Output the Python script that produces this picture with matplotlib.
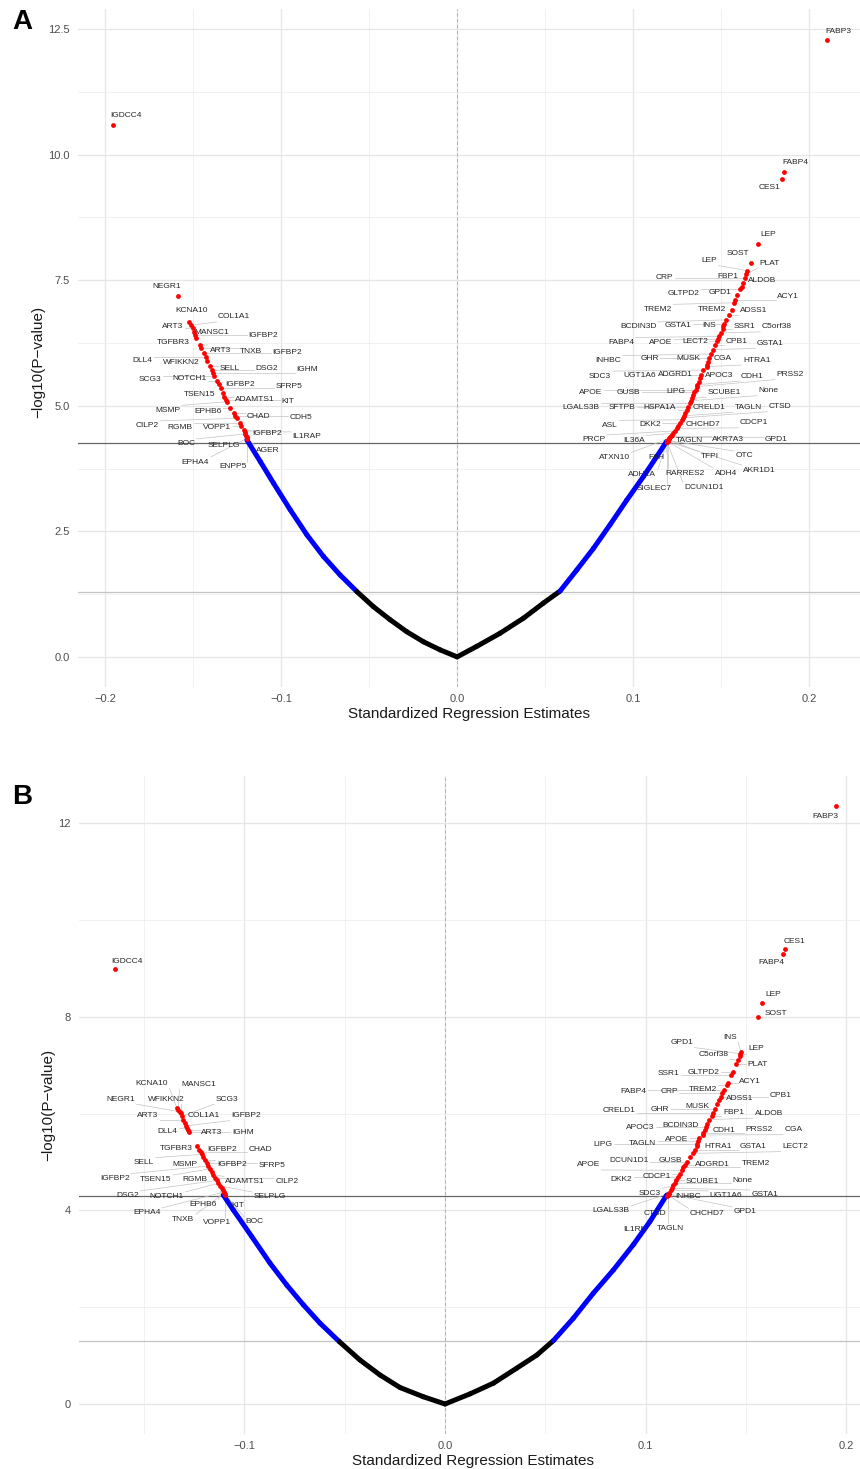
import matplotlib
matplotlib.use("Agg")
import matplotlib.pyplot as plt
from matplotlib.ticker import MultipleLocator
import numpy as np

plt.rcParams["font.family"] = ["Liberation Sans", "DejaVu Sans"]

# ---------------- panel A data ----------------
# background genes along the volcano curve (left -> right)
a_curve_est = [-0.1195, -0.1119, -0.1044, -0.0949, -0.0854, -0.0760, -0.0665, -0.0570,
               -0.0476, -0.0381, -0.0286, -0.0191, -0.0097, 0.0, 0.0112, 0.0244, 0.0377,
               0.0490, 0.0585, 0.0680, 0.0775, 0.0869, 0.0964, 0.1059, 0.1135, 0.1191]
a_curve_logp = [4.32, 3.89, 3.46, 2.93, 2.43, 2.00, 1.63, 1.30, 1.00, 0.74, 0.50, 0.30, 0.14,
                0.0, 0.21, 0.47, 0.77, 1.07, 1.31, 1.73, 2.16, 2.63, 3.12, 3.59, 3.99, 4.29]

# significant (labelled) genes
a_genes = ["IGDCC4", "NEGR1", "KCNA10", "COL1A1", "ART3", "MANSC1", "IGFBP2", "TGFBR3", "ART3",
           "TNXB", "IGFBP2", "DLL4", "WFIKKN2", "SELL", "DSG2", "IGHM", "SCG3", "NOTCH1",
           "IGFBP2", "SFRP5", "TSEN15", "ADAMTS1", "KIT", "MSMP", "EPHB6", "CHAD", "CDH5",
           "CILP2", "RGMB", "VOPP1", "IGFBP2", "IL1RAP", "BOC", "SELPLG", "AGER", "EPHA4",
           "ENPP5",
           "FABP3", "FABP4", "CES1", "LEP", "SOST", "LEP", "PLAT", "CRP", "FBP1", "ALDOB",
           "GLTPD2", "GPD1", "ACY1", "TREM2", "TREM2", "ADSS1", "BCDIN3D", "GSTA1", "INS",
           "SSR1", "C5orf38", "FABP4", "APOE", "LECT2", "CPB1", "GSTA1", "INHBC", "GHR",
           "MUSK", "CGA", "HTRA1", "SDC3", "UGT1A6", "ADGRD1", "APOC3", "CDH1", "PRSS2",
           "APOE", "GUSB", "LIPG", "SCUBE1", "None", "LGALS3B", "SFTPB", "HSPA1A", "CRELD1",
           "TAGLN", "CTSD", "ASL", "DKK2", "CHCHD7", "CDCP1", "PRCP", "IL36A", "TAGLN",
           "AKR7A3", "GPD1", "ATXN10", "FAH", "TFPI", "OTC", "ADH1A", "RARRES2", "ADH4",
           "AKR1D1", "SIGLEC7", "DCUN1D1"]
a_gene_est = [-0.1955, -0.1587, -0.1523, -0.1512, -0.1502, -0.1494, -0.1490, -0.1483, -0.1460,
              -0.1455, -0.1440, -0.1430, -0.1419, -0.1405, -0.1394, -0.1388, -0.1381, -0.1366,
              -0.1356, -0.1345, -0.1331, -0.1324, -0.1314, -0.1308, -0.1290, -0.1271, -0.1262,
              -0.1252, -0.1233, -0.1227, -0.1214, -0.1208, -0.1204, -0.1200, -0.1197, -0.1195,
              -0.1193,
              0.2102, 0.1858, 0.1847, 0.1709, 0.1670, 0.1650, 0.1643, 0.1636, 0.1627, 0.1618,
              0.1608, 0.1592, 0.1580, 0.1574, 0.1561, 0.1543, 0.1528, 0.1518, 0.1513,
              0.1510, 0.1500, 0.1489, 0.1484, 0.1479, 0.1468, 0.1456, 0.1445, 0.1432,
              0.1427, 0.1422, 0.1419, 0.1399, 0.1389, 0.1381, 0.1373, 0.1366, 0.1362,
              0.1355, 0.1349, 0.1343, 0.1335, 0.1328, 0.1323, 0.1314, 0.1305, 0.1297,
              0.1288, 0.1283, 0.1277, 0.1266, 0.1256, 0.1247, 0.1238, 0.1229, 0.1222,
              0.1215, 0.1210, 0.1206, 0.1202, 0.1200, 0.1198, 0.1197, 0.1196, 0.1195,
              0.1195, 0.1194, 0.1193]
a_gene_logp = [10.59, 7.19, 6.67, 6.60, 6.54, 6.46, 6.40, 6.34, 6.21, 6.15, 6.05, 5.97, 5.90,
               5.80, 5.71, 5.65, 5.59, 5.50, 5.43, 5.35, 5.25, 5.18, 5.12, 5.08, 4.95, 4.85,
               4.80, 4.75, 4.65, 4.60, 4.52, 4.48, 4.44, 4.40, 4.37, 4.35, 4.33,
               12.28, 9.65, 9.51, 8.23, 7.85, 7.69, 7.62, 7.54, 7.45, 7.37, 7.32, 7.20, 7.10,
               7.05, 6.91, 6.80, 6.71, 6.62, 6.59, 6.52, 6.45, 6.38, 6.33, 6.28, 6.20, 6.12,
               6.03, 5.95, 5.88, 5.82, 5.78, 5.71, 5.62, 5.55, 5.48, 5.42, 5.38, 5.32, 5.27,
               5.21, 5.15, 5.10, 5.05, 4.98, 4.92, 4.86, 4.80, 4.76, 4.72, 4.66, 4.60, 4.55,
               4.50, 4.45, 4.42, 4.39, 4.37, 4.35, 4.33, 4.32, 4.31, 4.30, 4.30, 4.29, 4.29,
               4.28, 4.28]
a_sig = 4.26

# ---------------- panel B data ----------------
b_curve_est = [-0.1105, -0.1055, -0.0963, -0.0872, -0.0789, -0.0706, -0.0623, -0.0527, -0.0424,
               -0.0324, -0.0224, -0.0108, 0.0, 0.0125, 0.0241, 0.0357, 0.0457, 0.0540, 0.0639,
               0.0739, 0.0839, 0.0938, 0.1021, 0.1105]
b_curve_logp = [4.32, 4.01, 3.46, 2.91, 2.46, 2.05, 1.67, 1.29, 0.91, 0.60, 0.34, 0.15, 0.0,
                0.21, 0.43, 0.74, 1.01, 1.31, 1.77, 2.29, 2.77, 3.29, 3.77, 4.32]

b_genes = ["IGDCC4", "KCNA10", "MANSC1", "NEGR1", "WFIKKN2", "SCG3", "ART3", "COL1A1", "IGFBP2",
           "DLL4", "ART3", "IGHM", "TGFBR3", "IGFBP2", "CHAD", "SELL", "MSMP", "IGFBP2",
           "SFRP5", "IGFBP2", "TSEN15", "RGMB", "ADAMTS1", "CILP2", "DSG2", "NOTCH1",
           "SELPLG", "EPHB6", "KIT", "EPHA4", "TNXB", "VOPP1", "BOC",
           "FABP3", "CES1", "FABP4", "LEP", "SOST", "INS", "GPD1", "LEP", "C5orf38", "PLAT",
           "GLTPD2", "SSR1", "ACY1", "TREM2", "FABP4", "CRP", "CPB1", "ADSS1", "MUSK", "GHR",
           "CRELD1", "FBP1", "ALDOB", "BCDIN3D", "APOC3", "CDH1", "PRSS2", "CGA", "APOE",
           "TAGLN", "LIPG", "HTRA1", "GSTA1", "LECT2", "GUSB", "DCUN1D1", "ADGRD1", "TREM2",
           "APOE", "CDCP1", "DKK2", "SCUBE1", "None", "SDC3", "GSTA1", "UGT1A6", "INHBC",
           "LGALS3B", "GPD1", "CTSD", "CHCHD7", "TAGLN", "IL1RN"]
b_gene_est = [-0.1644, -0.1337, -0.1330, -0.1322, -0.1317, -0.1311, -0.1304, -0.1295, -0.1290,
              -0.1284, -0.1279, -0.1274, -0.1237, -0.1225, -0.1218, -0.1212, -0.1204, -0.1196,
              -0.1188, -0.1179, -0.1170, -0.1162, -0.1154, -0.1146, -0.1138, -0.1130,
              -0.1122, -0.1113, -0.1108, -0.1102, -0.1099, -0.1096, -0.1095,
              0.1948, 0.1695, 0.1685, 0.1579, 0.1560, 0.1473, 0.1471, 0.1470, 0.1460, 0.1450,
              0.1433, 0.1427, 0.1412, 0.1403, 0.1392, 0.1382, 0.1374, 0.1367, 0.1354, 0.1345,
              0.1337, 0.1330, 0.1318, 0.1304, 0.1300, 0.1295, 0.1288, 0.1284, 0.1267,
              0.1262, 0.1257, 0.1254, 0.1245, 0.1234, 0.1220, 0.1204, 0.1196, 0.1188,
              0.1179, 0.1171, 0.1163, 0.1152, 0.1144, 0.1138, 0.1130, 0.1124, 0.1118,
              0.1115, 0.1113, 0.1111, 0.1110, 0.1109, 0.1108]
b_gene_logp = [8.99, 6.12, 6.08, 6.04, 6.01, 5.95, 5.88, 5.80, 5.75, 5.70, 5.66, 5.63, 5.33,
               5.25, 5.20, 5.16, 5.10, 5.04, 4.98, 4.92, 4.86, 4.80, 4.74, 4.68, 4.62, 4.56,
               4.51, 4.46, 4.42, 4.38, 4.36, 4.34, 4.33,
               12.36, 9.40, 9.30, 8.28, 8.00, 7.28, 7.24, 7.19, 7.10, 7.02, 6.87, 6.80, 6.64,
               6.59, 6.50, 6.42, 6.35, 6.28, 6.20, 6.10, 6.02, 5.95, 5.88, 5.79, 5.72, 5.66,
               5.60, 5.56, 5.49, 5.43, 5.37, 5.33, 5.26, 5.18, 5.10, 5.01, 4.95, 4.89, 4.83,
               4.76, 4.70, 4.62, 4.56, 4.52, 4.46, 4.42, 4.37, 4.35, 4.34, 4.33, 4.32, 4.31,
               4.30]
b_sig = 4.30

nominal = 1.30  # -log10(0.05)

# ---------------- label layout (repelled text positions) ----------------
a_lab_x = [-0.1881, -0.1650, -0.1511, -0.1267, -0.1616, -0.1392, -0.1102, -0.1616, -0.1347,
           -0.1170, -0.0964, -0.1788, -0.1570, -0.1294, -0.1081, -0.0854, -0.1744, -0.1523,
           -0.1231, -0.0958, -0.1466, -0.1150, -0.0964, -0.1644, -0.1417, -0.1127, -0.0888,
           -0.1763, -0.1574, -0.1362, -0.1078, -0.0854, -0.1540, -0.1324, -0.1074, -0.1487,
           -0.1271,
           0.2165, 0.1923, 0.1778, 0.1769, 0.1598, 0.1434, 0.1775, 0.1178, 0.1538, 0.1733,
           0.1286, 0.1494, 0.1881, 0.1140, 0.1449, 0.1684, 0.1030, 0.1254, 0.1430,
           0.1633, 0.1816, 0.0932, 0.1157, 0.1352, 0.1589, 0.1778, 0.0856, 0.1093,
           0.1314, 0.1509, 0.1703, 0.0813, 0.1040, 0.1239, 0.1490, 0.1676, 0.1892,
           0.0760, 0.0976, 0.1244, 0.1521, 0.1769, 0.0703, 0.0936, 0.1153, 0.1434,
           0.1655, 0.1835, 0.0869, 0.1097, 0.1399, 0.1689, 0.0778, 0.1006, 0.1320,
           0.1542, 0.1813, 0.0892, 0.1133, 0.1434, 0.1631, 0.1053, 0.1295, 0.1527,
           0.1718, 0.1119, 0.1403]
a_lab_y = [10.78, 7.38, 6.89, 6.77, 6.57, 6.46, 6.40, 6.26, 6.11, 6.09, 6.07, 5.91, 5.86,
           5.75, 5.75, 5.73, 5.53, 5.54, 5.43, 5.39, 5.22, 5.12, 5.08, 4.91, 4.89, 4.78,
           4.76, 4.60, 4.57, 4.57, 4.44, 4.38, 4.24, 4.20, 4.11, 3.88, 3.79,
           12.46, 9.85, 9.34, 8.41, 8.04, 7.89, 7.84, 7.56, 7.57, 7.49, 7.24, 7.25, 7.17,
           6.92, 6.92, 6.89, 6.57, 6.59, 6.59, 6.57, 6.57, 6.26, 6.26, 6.27, 6.27, 6.24,
           5.90, 5.94, 5.95, 5.95, 5.91, 5.59, 5.61, 5.62, 5.61, 5.59, 5.62, 5.27, 5.27,
           5.29, 5.27, 5.30, 4.96, 4.96, 4.97, 4.96, 4.97, 4.98, 4.61, 4.62, 4.62, 4.66,
           4.32, 4.31, 4.31, 4.32, 4.33, 3.97, 3.97, 3.99, 4.00, 3.64, 3.66, 3.66, 3.72,
           3.35, 3.38]

b_lab_x = [-0.1584, -0.1461, -0.1229, -0.1616, -0.1387, -0.1088, -0.1483, -0.1204, -0.0992,
           -0.1384, -0.1161, -0.1008, -0.1340, -0.1113, -0.0922, -0.1500, -0.1295, -0.1063,
           -0.0864, -0.1644, -0.1440, -0.1246, -0.0997, -0.0786, -0.1583, -0.1387,
           -0.0875, -0.1204, -0.1033, -0.1486, -0.1304, -0.1138, -0.0950,
           0.1893, 0.1744, 0.1624, 0.1634, 0.1649, 0.1420, 0.1179, 0.1550, 0.1337, 0.1558,
           0.1290, 0.1113, 0.1520, 0.1284, 0.0938, 0.1116, 0.1673, 0.1470, 0.1257, 0.1071,
           0.0868, 0.1437, 0.1613, 0.1174, 0.0975, 0.1390, 0.1565, 0.1736, 0.1154,
           0.0985, 0.0789, 0.1360, 0.1536, 0.1744, 0.1121, 0.0918, 0.1334, 0.1548,
           0.0714, 0.1055, 0.0880, 0.1282, 0.1483, 0.1018, 0.1594, 0.1400, 0.1212,
           0.0826, 0.1496, 0.1048, 0.1307, 0.1121, 0.0945]
b_lab_y = [9.15, 6.63, 6.61, 6.30, 6.30, 6.30, 5.97, 5.96, 5.96, 5.64, 5.62, 5.62, 5.29,
           5.26, 5.26, 4.99, 4.96, 4.94, 4.92, 4.66, 4.63, 4.63, 4.60, 4.59, 4.30, 4.28,
           4.28, 4.13, 4.10, 3.95, 3.82, 3.75, 3.77,
           12.15, 9.55, 9.13, 8.47, 8.08, 7.58, 7.47, 7.34, 7.23, 7.01, 6.85, 6.83, 6.67,
           6.51, 6.46, 6.46, 6.38, 6.32, 6.14, 6.09, 6.06, 6.02, 6.01, 5.76, 5.72, 5.66,
           5.67, 5.67, 5.47, 5.39, 5.37, 5.32, 5.32, 5.32, 5.04, 5.03, 4.96, 4.97, 4.94,
           4.70, 4.65, 4.60, 4.61, 4.35, 4.32, 4.30, 4.28, 3.99, 3.97, 3.94, 3.94, 3.63,
           3.61]

W, H = 860, 1469
fig = plt.figure(figsize=(W / 100, H / 100), dpi=100)


def px_axes(left, top, right, bottom):
    return fig.add_axes([left / W, 1 - bottom / H, (right - left) / W, (bottom - top) / H])


def draw_panel(ax, curve_est, curve_logp, est, logp, sig, xlim, ylim, xminor, ymajor, yminor):
    ax.set_xlim(*xlim)
    ax.set_ylim(*ylim)
    ax.xaxis.set_major_locator(MultipleLocator(0.1))
    ax.xaxis.set_minor_locator(MultipleLocator(xminor))
    ax.yaxis.set_major_locator(MultipleLocator(ymajor))
    ax.yaxis.set_minor_locator(MultipleLocator(yminor))
    ax.grid(which="major", color="#E6E6E6", lw=0.9)
    ax.grid(which="minor", color="#EFEFEF", lw=0.6)
    ax.set_axisbelow(True)
    for s in ax.spines.values():
        s.set_visible(False)
    ax.tick_params(which="both", length=0, labelsize=8, labelcolor="#4D4D4D")
    ax.tick_params(axis="x", pad=5)
    ax.tick_params(axis="y", pad=6)

    ax.axvline(0, color="#A8A8A8", lw=0.6, ls=(0, (4, 3)), zorder=1)
    ax.axhline(nominal, color="#C4C4C4", lw=0.9, zorder=1)
    ax.axhline(sig, color="#666666", lw=0.9, zorder=1)

    # non significant genes: black below nominal, blue between thresholds
    for i in range(len(curve_est) - 1):
        mid = (curve_logp[i] + curve_logp[i + 1]) / 2
        col = "black" if mid < nominal else "#0000FF"
        ax.plot(curve_est[i:i + 2], curve_logp[i:i + 2], color=col, lw=3.6,
                solid_capstyle="round", zorder=2)
    ax.scatter(est, logp, s=12, color="#FF0000", linewidths=0, zorder=3)

    ax.set_xlabel("Standardized Regression Estimates", fontsize=11, color="#1A1A1A")
    ax.set_ylabel("\u2212log10(P\u2212value)", fontsize=11, color="#1A1A1A")


def draw_labels(ax, names, est, logp, lab_x, lab_y):
    texts = [ax.text(x, y, n, fontsize=6, ha="center", va="center", color="#262626", zorder=4)
             for n, x, y in zip(names, lab_x, lab_y)]
    fig.canvas.draw()
    r = fig.canvas.get_renderer()
    inv = ax.transData.inverted()
    for t, x, y in zip(texts, est, logp):
        bb = t.get_window_extent(r)
        px, py = ax.transData.transform((x, y))
        cx = min(max(px, bb.x0 - 1.5), bb.x1 + 1.5)
        cy = min(max(py, bb.y0 - 1.5), bb.y1 + 1.5)
        if np.hypot(px - cx, py - cy) > 7:
            (x0, y0), (x1, y1) = inv.transform([(px, py), (cx, cy)])
            ax.plot([x0, x1], [y0, y1], color="#C4C4C4", lw=0.5, zorder=1.5)


ax_a = px_axes(78, 9, 860, 687)
draw_panel(ax_a, a_curve_est, a_curve_logp, a_gene_est, a_gene_logp, a_sig,
           (-0.2155, 0.2290), (-0.60, 12.90), 0.05, 2.5, 1.25)
ax_a.xaxis.set_label_coords(0.5, -0.040)
ax_a.xaxis.label.set_va("center")
ax_a.yaxis.set_label_coords(-0.051, 0.48)
ax_a.yaxis.label.set_va("center")

ax_b = px_axes(79, 776, 860, 1434)
draw_panel(ax_b, b_curve_est, b_curve_logp, b_gene_est, b_gene_logp, b_sig,
           (-0.1824, 0.2068), (-0.62, 12.98), 0.05, 4, 2)
ax_b.xaxis.set_label_coords(0.505, -0.041)
ax_b.xaxis.label.set_va("center")
ax_b.yaxis.set_label_coords(-0.040, 0.5)
ax_b.yaxis.label.set_va("center")

draw_labels(ax_a, a_genes, a_gene_est, a_gene_logp, a_lab_x, a_lab_y)
draw_labels(ax_b, b_genes, b_gene_est, b_gene_logp, b_lab_x, b_lab_y)

fig.text(22 / W, 1 - 22 / H, "A", fontsize=20, fontweight="bold", ha="center", va="center")
fig.text(22 / W, 1 - 797 / H, "B", fontsize=20, fontweight="bold", ha="center", va="center")

fig.savefig("out.png", dpi=100)
